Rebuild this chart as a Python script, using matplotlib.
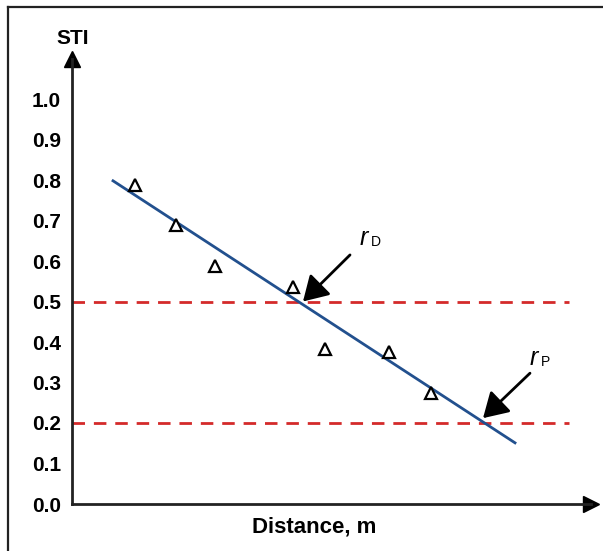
import numpy as np
import matplotlib
matplotlib.use("Agg")
import matplotlib.pyplot as plt
from matplotlib.lines import Line2D

plt.rcParams['font.family'] = ['Liberation Sans', 'DejaVu Sans']

# measured points (distance in arbitrary units, STI)
dist = [1.215, 2.006, 2.758, 4.262, 4.880, 6.114, 6.924]
sti = [0.788, 0.689, 0.588, 0.536, 0.383, 0.375, 0.274]

# fitted regression line end points
fit_x = [0.791, 8.544]
fit_y = [0.798, 0.151]

# threshold levels
levels = [0.5, 0.2]
level_end = 9.585

yticks = [0.0, 0.1, 0.2, 0.3, 0.4, 0.5, 0.6, 0.7, 0.8, 0.9, 1.0]

# arrow annotations: tip, tail
rd_tip = (4.455, 0.50)
rd_tail = (5.362, 0.615)
rp_tip = (7.927, 0.212)
rp_tail = (8.833, 0.323)

W, H = 603, 551
fig = plt.figure(figsize=(W / 100, H / 100), dpi=100)
ax = fig.add_axes([72 / W, 47 / H, 518.5 / W, 445.5 / H])

ax.set_xlim(0, 10)
ax.set_ylim(0, 1.1)

for s in ['top', 'right']:
    ax.spines[s].set_visible(False)
for s in ['left', 'bottom']:
    ax.spines[s].set_linewidth(2.0)
    ax.spines[s].set_color('#222222')

# axis arrow heads
ax.plot(1, 0, '>', color='black', ms=12, transform=ax.transAxes, clip_on=False)
ax.plot(0, 1, '^', color='black', ms=12, transform=ax.transAxes, clip_on=False)

ax.set_xticks([])
ax.set_yticks(yticks)
ax.set_yticklabels(['%.1f' % v for v in yticks], fontsize=15, fontweight='bold')
ax.tick_params(axis='y', length=0, pad=8)

for lv in levels:
    ax.plot([0, level_end], [lv, lv], color='#d42a2a', lw=2, dashes=(4.5, 3.2))

ax.plot(fit_x, fit_y, color='#22508e', lw=2)
ax.plot(dist, sti, '^', ms=9, mfc='white', mec='black', mew=1.6, zorder=5)

arrow = dict(arrowstyle='-|>,head_length=0.5,head_width=0.3', lw=2,
             color='black', mutation_scale=30, shrinkA=0, shrinkB=0)
ax.annotate('', xy=rd_tip, xytext=rd_tail, arrowprops=arrow)
ax.annotate('', xy=rp_tip, xytext=rp_tail, arrowprops=arrow)

ax.text(5.554, 0.640, 'r', fontsize=18, style='italic', ha='left', va='baseline')
ax.text(5.77, 0.637, 'D', fontsize=10, ha='left', va='baseline')
ax.text(8.833, 0.343, 'r', fontsize=18, style='italic', ha='left', va='baseline')
ax.text(9.05, 0.340, 'P', fontsize=10, ha='left', va='baseline')

fig.text(72.5 / W, 1 - 38 / H, 'STI', fontsize=15, fontweight='bold',
         ha='center', va='center')
fig.text(314 / W, 1 - 527 / H, 'Distance, m', fontsize=16, fontweight='bold',
         ha='center', va='center')

# outer frame
fig.add_artist(Line2D([8 / W, 8 / W], [0, 1 - 7 / H], color='#222222', lw=1.6))
fig.add_artist(Line2D([8 / W, 1], [1 - 7 / H, 1 - 7 / H], color='#222222', lw=1.6))

fig.savefig('out.png', dpi=100)
